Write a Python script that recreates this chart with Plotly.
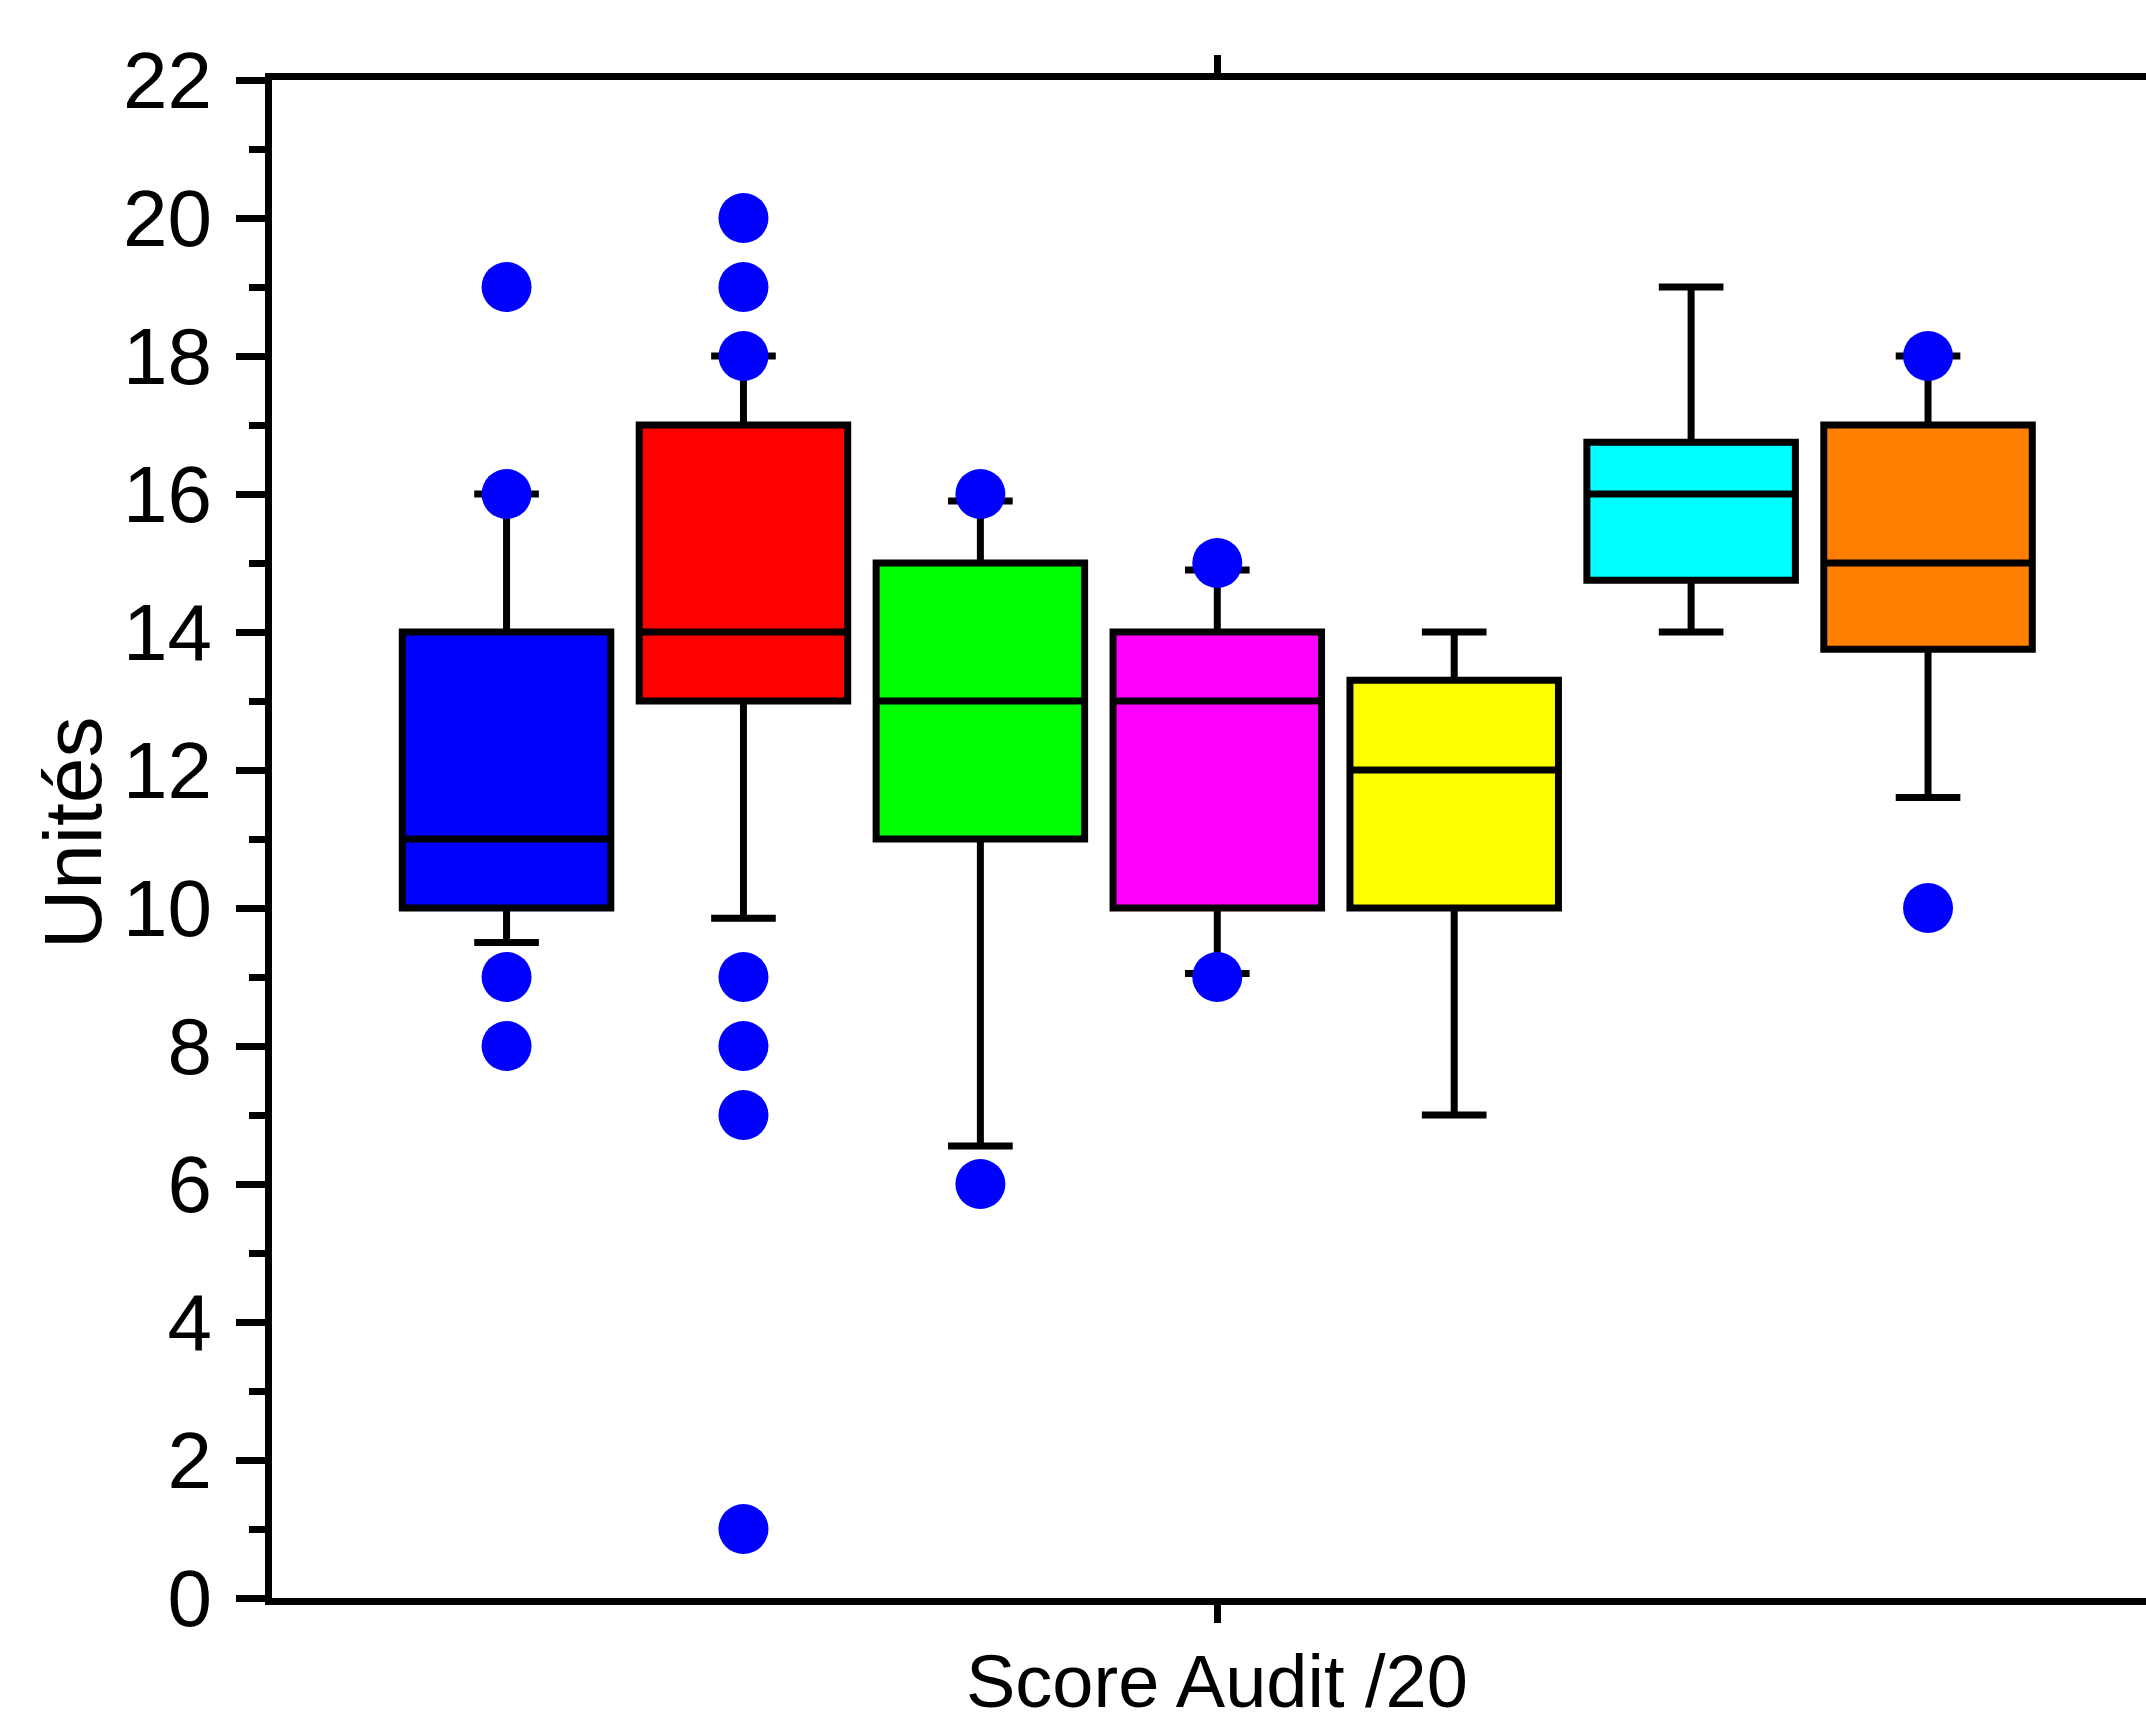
import plotly.graph_objects as go

# ---- data ----
groups = ["G1", "G2", "G3", "G4", "G5", "G6", "G7"]
fill_colors = ["#0000FF", "#FF0000", "#00FF00", "#FF00FF", "#FFFF00", "#00FFFF", "#FF8000"]
q1 = [10, 13, 11, 10, 10, 14.75, 13.75]
median = [11, 14, 13, 13, 12, 16, 15]
q3 = [14, 17, 15, 14, 13.3, 16.75, 17]
lower_fence = [9.5, 9.85, 6.55, 9.05, 7, 14, 11.6]
upper_fence = [16, 18, 15.9, 14.9, 14, 19, 18]
outliers = [
    [19, 16, 9, 8],
    [20, 19, 18, 9, 8, 7, 1],
    [16, 6],
    [15, 9],
    [],
    [],
    [18, 10],
]
y_ticks = [0, 2, 4, 6, 8, 10, 12, 14, 16, 18, 20, 22]
x_title = "Score Audit /20"
y_title = "Unités"

FONT = "Liberation Sans, Arial, sans-serif"

W, H = 2146, 1728
ML, MR, MT, MB = 272, 0, 80, 130
PW = W - ML - MR
PH = H - MT - MB

fig = go.Figure()
for i, g in enumerate(groups):
    fig.add_trace(go.Box(
        name=g,
        x=[i],
        q1=[q1[i]], median=[median[i]], q3=[q3[i]],
        lowerfence=[lower_fence[i]], upperfence=[upper_fence[i]],
        width=0.88,
        whiskerwidth=0.31,
        fillcolor=fill_colors[i],
        line=dict(color="black", width=7),
        boxpoints=False,
        showlegend=False,
        hoverinfo="skip",
    ))

ox, oy = [], []
for i, vals in enumerate(outliers):
    for v in vals:
        ox.append(i)
        oy.append(v)
fig.add_trace(go.Scatter(
    x=ox, y=oy, mode="markers",
    marker=dict(color="#0000FF", size=50, symbol="circle", line=dict(width=0)),
    showlegend=False, hoverinfo="skip",
))

# x-axis title (centred on the middle tick)
fig.add_annotation(
    text=x_title, x=3, xref="x", y=-(1638 - (MT + PH)) / PH, yref="paper",
    xanchor="center", yanchor="top", showarrow=False,
    font=dict(family=FONT, size=74, color="black"),
)
# y-axis title
fig.add_annotation(
    text=y_title, textangle=-90,
    x=(72 - ML) / PW, xref="paper", y=(MT + PH - 833) / PH, yref="paper",
    xanchor="center", yanchor="middle", showarrow=False,
    font=dict(family=FONT, size=82, color="black"),
)

fig.update_layout(
    width=W, height=H, autosize=False,
    margin=dict(l=ML, r=MR, t=MT, b=MB, pad=0),
    paper_bgcolor="white", plot_bgcolor="white",
    showlegend=False,
)
fig.update_xaxes(
    range=[-0.99, 6.92],
    tickvals=[3], ticktext=[""], showticklabels=False,
    ticks="outside", ticklen=18, tickwidth=7, tickcolor="black",
    showline=True, linewidth=7, linecolor="black", mirror="ticks",
    showgrid=False, zeroline=False,
)
fig.update_yaxes(
    range=[0, 22],
    tickvals=y_ticks,
    ticks="outside", ticklen=29, tickwidth=7, tickcolor="black",
    minor=dict(dtick=1, ticks="outside", ticklen=16, tickwidth=7, tickcolor="black", showgrid=False),
    showline=True, linewidth=7, linecolor="black", mirror=False,
    showgrid=False, zeroline=False,
    tickfont=dict(family=FONT, size=80, color="black"),
    ticklabelstandoff=8,
)

fig.write_html("out.html", config={"displayModeBar": False},
               post_script="document.body.style.margin='0';")
